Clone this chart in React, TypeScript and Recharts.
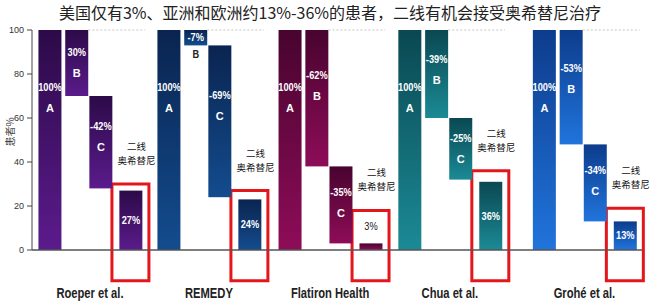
import React from "react";
import { BarChart, Bar, XAxis, YAxis, ReferenceArea, ReferenceLine } from "recharts";

const studies = ["Roeper et al.", "REMEDY", "Flatiron Health", "Chua et al.", "Grohé et al."];
const stepNames = ["A", "B", "C", ""];

// % of patients left after each step (A, B, C, 2nd-line osimertinib), as drawn
const roeperLevels = [100, 70, 28, 27];
const remedyLevels = [100, 93, 24, 23];
const flatironLevels = [100, 38, 3, 3];
const chuaLevels = [100, 60, 32, 31];
const groheLevels = [100, 48, 13, 13];
const levels = [roeperLevels, remedyLevels, flatironLevels, chuaLevels, groheLevels];

const roeperText = ["100%", "30%", "-42%", "27%"];
const remedyText = ["100%", "-7%", "-69%", "24%"];
const flatironText = ["100%", "-62%", "-35%", "3%"];
const chuaText = ["100%", "-39%", "-25%", "36%"];
const groheText = ["100%", "-53%", "-34%", "13%"];
const stepText = [roeperText, remedyText, flatironText, chuaText, groheText];

// top of the red highlight box, % scale
const boxTop = [30, 27, 18, 36, 19];
const yTicks = [0, 20, 40, 60, 80, 100];

// layout (axis units): bar slot inside a group, start of each group
const slotX = [0, 1, 1.9, 3.02];
const groupX = [0, 4.44, 8.96, 13.43, 18.45];

const palette = [
  ["#2c0a48", "#5b1b8c"],
  ["#0a2450", "#134c8e"],
  ["#48042f", "#8e0c58"],
  ["#0a4852", "#1b8a95"],
  ["#0d3c8c", "#2074dc"],
];

const sans = "'Liberation Sans', Arial, sans-serif";
const cjk = "'Noto Sans CJK SC', 'Noto Sans', sans-serif";

const rows = studies.flatMap((name, g) =>
  stepNames.map((_, s) => {
    const lv = levels[g];
    let range: number[];
    if (s === 0) range = [0, lv[0]];
    else if (s === 3) range = [0, lv[3]];
    else range = [lv[s], lv[s - 1]];
    return { x: groupX[g] + slotX[s], range, group: g, slot: s, name };
  })
);

const groupCenters = groupX.map((gx) => gx + (slotX[0] + slotX[3]) / 2);

// condensed look (Arial Narrow-like) by squeezing horizontally
const NarrowText = ({ x, y, size = 11, bold = true, fill = "#fff", squeeze = 0.84, children }: any) => (
  <g transform={`translate(${x},${y}) scale(${squeeze},1)`}>
    <text
      x={0}
      y={0}
      textAnchor="middle"
      dominantBaseline="central"
      fontSize={size}
      fontWeight={bold ? "bold" : "normal"}
      fill={fill}
      fontFamily={sans}
    >
      {children}
    </text>
  </g>
);

const StepShape = (props: any) => {
  const { x, y, width, height, payload } = props;
  const { group, slot } = payload;
  const pct = stepText[group][slot];
  const letter = stepNames[slot];
  const cx = x + width / 2;
  const texts: React.ReactNode[] = [];
  if (slot === 3) {
    if (height < 15) {
      texts.push(
        <NarrowText key="p" x={cx} y={y - 17} bold={false} fill="#222">
          {pct}
        </NarrowText>
      );
    } else {
      texts.push(
        <NarrowText key="p" x={cx} y={y + height / 2}>
          {pct}
        </NarrowText>
      );
    }
  } else if (height < 25) {
    texts.push(
      <NarrowText key="p" x={cx} y={y + height / 2}>
        {pct}
      </NarrowText>,
      <NarrowText key="l" x={cx} y={y + height + 9} fill="#222">
        {letter}
      </NarrowText>
    );
  } else {
    const py = y + height * (slot === 0 ? 0.26 : 0.33);
    texts.push(
      <NarrowText key="p" x={cx} y={py}>
        {pct}
      </NarrowText>,
      <NarrowText key="l" x={cx} y={py + 21} squeeze={1}>
        {letter}
      </NarrowText>
    );
  }
  return (
    <g>
      <rect x={x} y={y} width={width} height={Math.max(height, 0)} fill={`url(#grad${group})`} />
      {texts}
    </g>
  );
};

const StudyTick = (props: any) => {
  const { x, y, payload } = props;
  const idx = groupCenters.findIndex((c) => Math.abs(c - payload.value) < 1e-6);
  return (
    <NarrowText x={x} y={y + 36} size={14} fill="#222" squeeze={0.8}>
      {studies[idx] ?? ""}
    </NarrowText>
  );
};

const YLabel = () => (
  <text x={9} y={132} transform="rotate(-90 9 132)" textAnchor="middle" dominantBaseline="central" fontSize={10} fill="#444" fontFamily={cjk}>
    患者%
  </text>
);

const BoxLabel = (props: any) => {
  const { viewBox } = props;
  if (!viewBox) return null;
  const cx = viewBox.x + viewBox.width / 2 + 6;
  const top = viewBox.y;
  return (
    <g>
      <text x={cx} y={top - 38} textAnchor="middle" dominantBaseline="central" fontSize={9.5} fill="#111" fontFamily={cjk}>
        二线
      </text>
      <text x={cx} y={top - 24} textAnchor="middle" dominantBaseline="central" fontSize={9.5} fill="#111" fontFamily={cjk}>
        奥希替尼
      </text>
    </g>
  );
};

export default function App() {
  return (
    <div style={{ position: "absolute", left: 0, top: 0, width: 650, height: 305, background: "#fff" }}>
      <div
        style={{
          position: "absolute",
          left: 0,
          top: 0,
          width: 660,
          textAlign: "center",
          fontFamily: cjk,
          fontSize: 16,
          lineHeight: "24px",
          color: "#222",
        }}
      >
        美国仅有3%、亚洲和欧洲约13%-36%的患者，二线有机会接受奥希替尼治疗
      </div>
      <BarChart
        width={650}
        height={305}
        data={rows}
        margin={{ top: 30, right: 8, left: 0, bottom: 0 }}
        style={{ position: "absolute", left: 0, top: 0 }}
      >
        <defs>
          {palette.map(([top, bottom], i) => (
            <linearGradient key={i} id={`grad${i}`} x1="0" y1="0" x2="0" y2="1">
              <stop offset="0%" stopColor={top} />
              <stop offset="100%" stopColor={bottom} />
            </linearGradient>
          ))}
        </defs>
        <XAxis
          dataKey="x"
          type="number"
          domain={[-0.653, 22.11]}
          ticks={groupCenters}
          tick={<StudyTick />}
          tickLine={false}
          axisLine={{ stroke: "#555", strokeWidth: 1.5 }}
          height={55}
          allowDataOverflow
          interval={0}
        />
        <YAxis
          type="number"
          domain={[0, 100]}
          ticks={yTicks}
          width={32}
          tickSize={5}
          tickMargin={3}
          tick={{ fontSize: 9, fill: "#333", fontFamily: sans }}
          axisLine={{ stroke: "#444" }}
          tickLine={{ stroke: "#444" }}
          label={<YLabel />}
        />
        {groupX.map((gx, g) => (
          <ReferenceLine
            key={`dl${g}`}
            segment={[
              { x: gx + slotX[1] + 0.45, y: 100 },
              { x: gx + slotX[3] + 0.55, y: 100 },
            ]}
            stroke="#c4c4c4"
            strokeDasharray="2 2"
            ifOverflow="visible"
          />
        ))}
        <Bar dataKey="range" barSize={23} shape={<StepShape />} isAnimationActive={false} />
        {groupX.map((gx, g) => (
          <ReferenceArea
            key={`box${g}`}
            x1={gx + slotX[3] - 0.69}
            x2={gx + slotX[3] + 0.69}
            y1={-14}
            y2={boxTop[g]}
            fill="none"
            fillOpacity={0}
            stroke="#e3161b"
            strokeWidth={3}
            ifOverflow="visible"
            label={<BoxLabel />}
          />
        ))}
      </BarChart>
    </div>
  );
}
